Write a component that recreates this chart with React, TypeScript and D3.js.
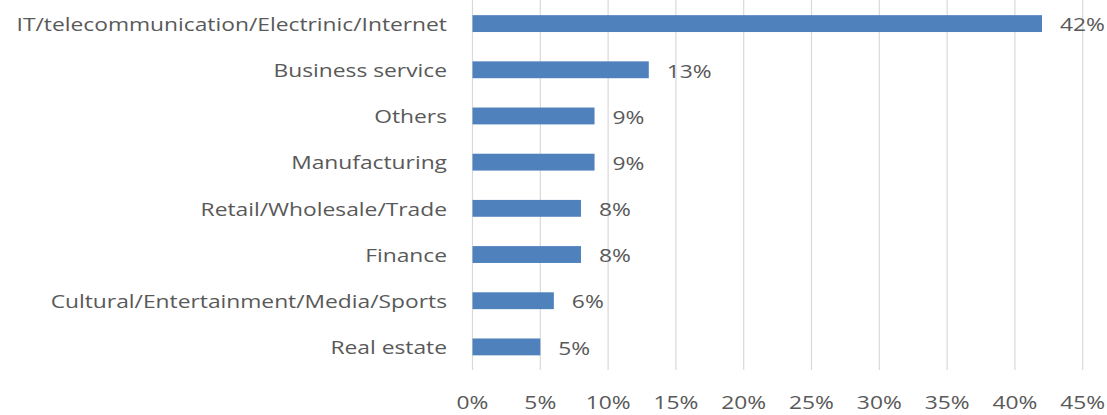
import React from "react";
import * as d3 from "d3";

const categories = [
  "IT/telecommunication/Electrinic/Internet",
  "Business service",
  "Others",
  "Manufacturing",
  "Retail/Wholesale/Trade",
  "Finance",
  "Cultural/Entertainment/Media/Sports",
  "Real estate",
];
const values = [42, 13, 9, 9, 8, 8, 6, 5];
const ticks = [0, 5, 10, 15, 20, 25, 30, 35, 40, 45];

const W = 1107;
const H = 415;
const FONT = "'Open Sans', sans-serif";
const FS = 19;
const SX = 1.2;
const TXT = "#595959";

function T(props: {
  x: number;
  y: number;
  anchor: "start" | "middle" | "end";
  children: React.ReactNode;
}) {
  return (
    <text
      transform={`translate(${props.x},${props.y}) scale(${SX},1)`}
      textAnchor={props.anchor}
      dominantBaseline="central"
      fontFamily={FONT}
      fontSize={FS}
      fill={TXT}
    >
      {props.children}
    </text>
  );
}

export default function App() {
  const x = d3.scaleLinear().domain([0, 45]).range([472.5, 1082.7]);
  const y = d3
    .scaleBand<string>()
    .domain(categories)
    .range([0.5, 370])
    .paddingInner(0.635)
    .paddingOuter(0.3175);

  return (
    <svg
      width={W}
      height={H}
      style={{ position: "absolute", left: 0, top: 0, background: "#fff" }}
    >
      {ticks.map((t) => (
        <g key={t}>
          <line
            x1={x(t)}
            x2={x(t)}
            y1={0}
            y2={370}
            stroke="#d9d9d9"
            strokeWidth={1.2}
          />
          <T x={x(t)} y={402} anchor="middle">
            {t}%
          </T>
        </g>
      ))}
      {categories.map((c, i) => {
        const yy = y(c)!;
        const bh = y.bandwidth();
        return (
          <g key={c}>
            <rect
              x={x(0)}
              y={yy}
              width={x(values[i]) - x(0)}
              height={bh}
              fill="#4f81bd"
            />
            <T x={447} y={yy + bh / 2} anchor="end">
              {c}
            </T>
            <T x={x(values[i]) + 18} y={yy + bh / 2 + 0.5} anchor="start">
              {values[i]}%
            </T>
          </g>
        );
      })}
    </svg>
  );
}
